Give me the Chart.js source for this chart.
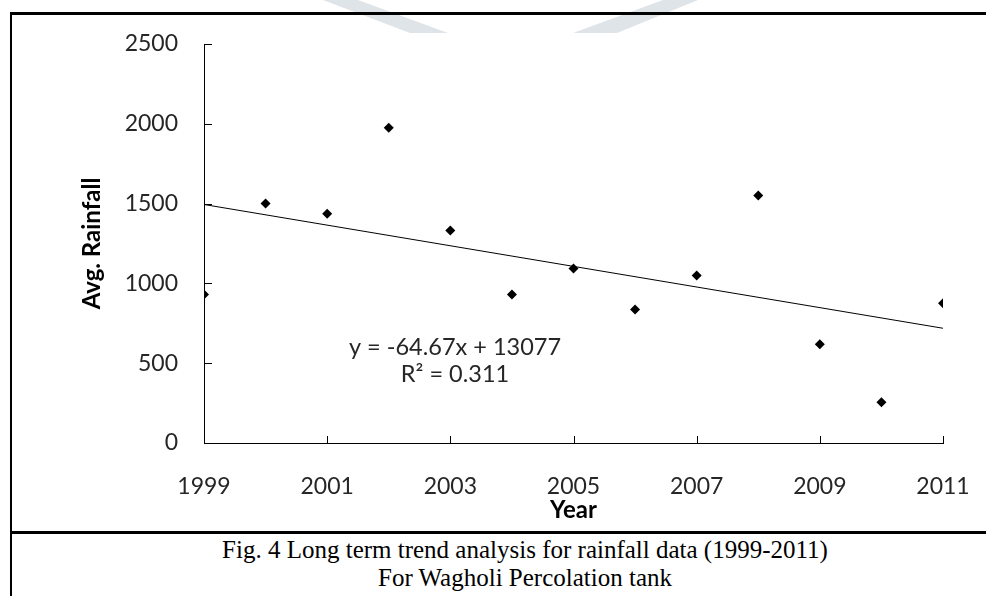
<!DOCTYPE html>
<html>
<head>
<meta charset="utf-8">
<script src="https://cdn.jsdelivr.net/npm/chart.js@4.4.1/dist/chart.umd.min.js"></script>
<style>
  html, body { margin:0; padding:0; background:#fff; }
  body { width:986px; height:596px; position:relative; overflow:hidden; }
  .wm { position:absolute; top:0; left:0; width:986px; height:33px; background:#dfe4e9; }
  #wmL { clip-path:polygon(323px 0, 358px 0, 448px 33px, 410px 33px); }
  #wmR { clip-path:polygon(663px 0, 698px 0, 617px 33px, 573px 33px); }
  #frame { position:absolute; left:10px; top:12px; width:1100px; height:700px;
           border-left:2px solid #000; border-top:3px solid #000; }
  #divider { position:absolute; left:10px; top:531px; width:1100px; height:3px; background:#000; }
  #caption { position:absolute; left:12px; top:536px; width:1026px; text-align:center;
             font-family:"Liberation Serif","Times New Roman",serif; font-size:25px; line-height:28px; color:#000; }
  #wrap { position:absolute; left:0; top:0; width:986px; height:596px; }
</style>
</head>
<body>
<div class="wm" id="wmL"></div>
<div class="wm" id="wmR"></div>
<div id="frame"></div>
<div id="divider"></div>
<div id="caption">Fig. 4 Long term trend analysis for rainfall data (1999-2011)<br>For Wagholi Percolation tank</div>
<div id="wrap"><canvas id="chart"></canvas></div>

<script>
// ---- data ----
const years = [1999, 2000, 2001, 2002, 2003, 2004, 2005, 2006, 2007, 2008, 2009, 2010, 2011];
const rainfall = [931, 1500, 1437, 1975, 1331, 931, 1094, 837, 1050, 1550, 619, 256, 875];
const xTicks = [1999, 2001, 2003, 2005, 2007, 2009, 2011];
const yTicks = [0, 500, 1000, 1500, 2000, 2500];
const equation = ["y = -64.67x + 13077", "R\u00B2 = 0.311"];

// linear trendline (least squares, like Excel)
function trend(xs, ys){
  const n = xs.length;
  const mx = xs.reduce((a,b)=>a+b,0)/n;
  const my = ys.reduce((a,b)=>a+b,0)/n;
  let sxy = 0, sxx = 0;
  xs.forEach((x,i)=>{ sxy += (x-mx)*(ys[i]-my); sxx += (x-mx)*(x-mx); });
  const m = sxy/sxx, b = my - m*mx;
  const x0 = xs[0], x1 = xs[n-1];
  return [{x:x0, y:m*x0+b}, {x:x1, y:m*x1+b}];
}

const points = years.map((y,i)=>({x:y, y:rainfall[i]}));
const tickColor = "#262626";

// inner tick marks + equation text
const extras = {
  id: "extras",
  afterDraw(chart){
    const {ctx, chartArea:a, scales:{x, y}} = chart;
    ctx.save();
    ctx.strokeStyle = "#000";
    ctx.lineWidth = 1;
    ctx.beginPath();
    y.ticks.forEach(t=>{
      const py = Math.round(y.getPixelForValue(t.value)) + 0.5;
      ctx.moveTo(a.left, py); ctx.lineTo(a.left + 8, py);
    });
    x.ticks.forEach(t=>{
      const px = Math.round(x.getPixelForValue(t.value)) + 0.5;
      ctx.moveTo(px, a.bottom); ctx.lineTo(px, a.bottom - 7);
    });
    ctx.stroke();

    ctx.fillStyle = tickColor;
    ctx.font = "23.5px Lato";
    ctx.textAlign = "center";
    ctx.textBaseline = "middle";
    ctx.fillText(equation[0], a.left + 251, a.top + 303);
    ctx.fillText(equation[1], a.left + 251, a.top + 330);
    ctx.restore();
  }
};

new Chart(document.getElementById("chart"), {
  type: "scatter",
  data: {
    datasets: [
      {
        data: points,
        pointStyle: "rectRot",
        pointRadius: 5,
        backgroundColor: "#000",
        borderColor: "#000",
        borderWidth: 0,
        order: 1
      },
      {
        type: "line",
        data: trend(years, rainfall),
        borderColor: "#000",
        borderWidth: 1,
        pointRadius: 0,
        fill: false,
        order: 2
      }
    ]
  },
  options: {
    responsive: true,
    maintainAspectRatio: false,
    animation: false,
    events: [],
    layout: { autoPadding: false, padding: { left: 0, top: 44, right: 43, bottom: 71 } },
    plugins: { legend: { display: false }, tooltip: { enabled: false } },
    scales: {
      x: {
        type: "linear",
        min: 1999, max: 2011,
        afterBuildTicks: s => { s.ticks = xTicks.map(v=>({value:v})); },
        afterFit: s => { s.height = 82; s.paddingLeft = 0; s.paddingRight = 0; },
        grid: { drawOnChartArea: false, drawTicks: false },
        border: { display: true, color: "#000", width: 1 },
        ticks: { padding: 30, color: tickColor, font: { family: "Lato", size: 23 }, callback: v => String(v) },
        title: { display: true, text: "Year", color: "#000", font: { family: "Lato", size: 24, weight: "bold" }, padding: { top: 0, bottom: 0 } }
      },
      y: {
        min: 0, max: 2500,
        afterBuildTicks: s => { s.ticks = yTicks.map(v=>({value:v})); },
        afterFit: s => { s.width = 204; s.paddingTop = 0; s.paddingBottom = 0; },
        grid: { drawOnChartArea: false, drawTicks: false },
        border: { display: true, color: "#000", width: 1 },
        ticks: { padding: 26, color: tickColor, font: { family: "Lato", size: 23 }, callback: v => String(v) },
        title: { display: true, text: "Avg. Rainfall", color: "#000", font: { family: "Lato", size: 24, weight: "bold" }, padding: { top: 78, bottom: 0 } }
      }
    }
  },
  plugins: [extras]
});
</script>
</body>
</html>
